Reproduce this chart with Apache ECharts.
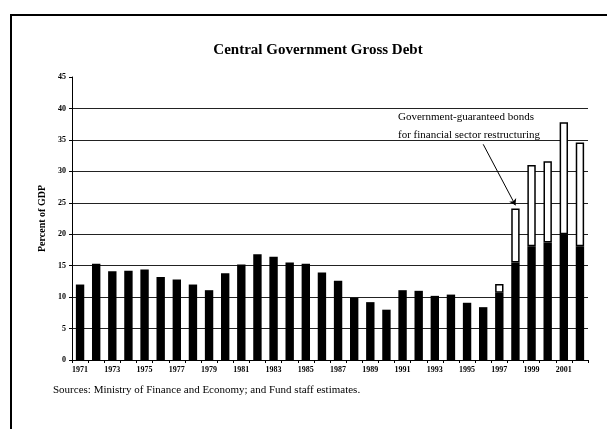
<!DOCTYPE html>
<html>
<head>
<meta charset="utf-8">
<script src="https://cdn.jsdelivr.net/npm/echarts@6/dist/echarts.min.js"></script>
<style>
  html, body { margin: 0; padding: 0; background: #fff; }
  #chart { width: 607px; height: 429px; }
</style>
</head>
<body>
<div id="chart"></div>
<script>
// data (percent of GDP)
let years = ['1971', '1972', '1973', '1974', '1975', '1976', '1977', '1978', '1979', '1980',
  '1981', '1982', '1983', '1984', '1985', '1986', '1987', '1988', '1989', '1990',
  '1991', '1992', '1993', '1994', '1995', '1996', '1997', '1998', '1999', '2000',
  '2001', '2002'];
let centralDebt = [12.0, 15.3, 14.1, 14.2, 14.4, 13.2, 12.8, 12.0, 11.1, 13.8,
  15.2, 16.8, 16.4, 15.5, 15.3, 13.9, 12.6, 9.9, 9.2, 8.0,
  11.1, 11.0, 10.2, 10.4, 9.1, 8.4, 10.7, 15.5, 18.1, 18.7,
  20.0, 18.1];
let guaranteedBonds = [null, null, null, null, null, null, null, null, null, null,
  null, null, null, null, null, null, null, null, null, null,
  null, null, null, null, null, null, 1.4, 8.6, 12.9, 12.9,
  17.8, 16.5];

let serif = '"Liberation Serif", "DejaVu Serif", serif';
let chart = echarts.init(document.getElementById('chart'));

let option = {
  backgroundColor: '#fff',
  animation: false,
  textStyle: { fontFamily: serif, color: '#000' },
  title: {
    text: 'Central Government Gross Debt',
    left: 313,
    textAlign: 'center',
    top: 38,
    textStyle: { fontFamily: serif, fontSize: 15, fontWeight: 'bold', color: '#000' }
  },
  grid: { left: 72, right: 19, top: 77, bottom: 69 },
  graphic: [
    {
      type: 'polyline',
      shape: { points: [[11, 429], [11, 15], [607, 15]] },
      style: { stroke: '#000', lineWidth: 2, fill: null }
    },
    {
      type: 'text',
      left: 398,
      top: 108,
      style: {
        text: 'Government-guaranteed bonds\nfor financial sector restructuring',
        font: '11px ' + serif,
        fill: '#000',
        lineHeight: 18
      }
    },
    {
      type: 'text',
      left: 53,
      top: 385,
      style: {
        text: 'Sources: Ministry of Finance and Economy; and Fund staff estimates.',
        font: '11px ' + serif,
        fill: '#000'
      }
    }
  ],
  xAxis: {
    type: 'category',
    data: years,
    axisLine: { lineStyle: { color: '#000', width: 1 } },
    axisTick: { show: true, interval: 0, length: 3, lineStyle: { color: '#000' } },
    axisLabel: { interval: 1, fontSize: 8, fontWeight: 'bold', color: '#000', margin: 6, fontFamily: serif }
  },
  yAxis: {
    type: 'value',
    min: 0,
    max: 45,
    interval: 5,
    name: 'Percent of GDP',
    nameLocation: 'middle',
    nameGap: 22,
    nameTextStyle: { fontFamily: serif, fontSize: 10, fontWeight: 'bold', color: '#000' },
    axisLine: { show: true, lineStyle: { color: '#000', width: 1 } },
    axisTick: { show: true, length: 3, lineStyle: { color: '#000' } },
    axisLabel: { fontSize: 8, fontWeight: 'bold', color: '#000', margin: 6, fontFamily: serif },
    splitLine: { show: true, showMinLine: false, showMaxLine: false, lineStyle: { color: '#222', width: 1 } }
  },
  series: [
    {
      name: 'Central government debt',
      type: 'bar',
      stack: 'debt',
      barWidth: '52%',
      data: centralDebt,
      itemStyle: { color: '#000' }
    },
    {
      name: 'Government-guaranteed bonds',
      type: 'bar',
      stack: 'debt',
      barWidth: '52%',
      data: guaranteedBonds,
      itemStyle: { color: '#fff', borderColor: '#000', borderWidth: 1.5 },
      markLine: {
        silent: true,
        symbol: ['none', 'arrow'],
        symbolSize: 6,
        label: { show: false },
        lineStyle: { color: '#000', width: 1, type: 'solid' },
        data: [[{ coord: ['1996', 34.3] }, { coord: ['1998', 24.6] }]]
      }
    }
  ]
};

chart.setOption(option);
</script>
</body>
</html>
